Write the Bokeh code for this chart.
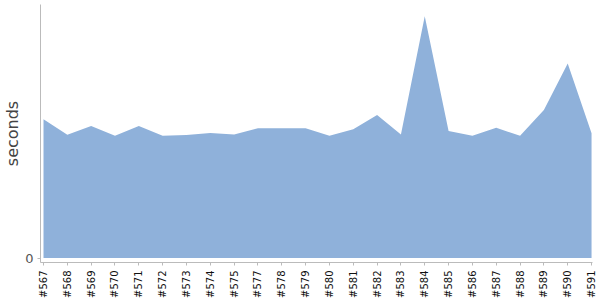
from bokeh.plotting import figure
from bokeh.models import Range1d, FixedTicker
from bokeh.embed import file_html
from bokeh.resources import INLINE

builds = ["#567", "#568", "#569", "#570", "#571", "#572", "#573", "#574", "#575",
          "#577", "#578", "#579", "#580", "#581", "#582", "#583", "#584", "#585",
          "#586", "#587", "#588", "#589", "#590", "#591"]
seconds = [55.7, 49.5, 53.0, 49.1, 53.0, 49.1, 49.4, 50.2, 49.6,
           52.1, 52.1, 52.1, 49.1, 51.7, 57.4, 49.6, 97.1, 51.0,
           49.1, 52.3, 49.1, 59.4, 78.1, 50.1]

xs = list(range(len(builds)))

p = figure(width=600, height=300, output_backend="svg", toolbar_location=None,
           x_range=Range1d(-0.126, len(builds) - 1 + 0.04),
           y_range=Range1d(-1.8, 101.8),
           min_border_left=40, min_border_top=4, min_border_right=8, min_border_bottom=37)
p.outline_line_color = None
p.background_fill_color = "white"
p.border_fill_color = "white"

p.varea(x=xs, y1=[0] * len(xs), y2=seconds, fill_color="#8fb1da", fill_alpha=1.0)

p.xgrid.visible = False
p.ygrid.visible = False

xa = p.xaxis[0]
xa.ticker = FixedTicker(ticks=xs)
xa.major_label_overrides = {i: b for i, b in enumerate(builds)}
xa.major_label_orientation = 1.5708
xa.major_label_text_font = "DejaVu Sans"
xa.major_label_text_font_size = "10px"
xa.major_label_text_color = "#111111"
xa.major_label_standoff = 5
xa.major_tick_out = 3
xa.major_tick_in = 0
xa.minor_tick_out = 0
xa.minor_tick_in = 0
xa.axis_line_color = "#bbbbbb"
xa.major_tick_line_color = "#bbbbbb"

ya = p.yaxis[0]
ya.ticker = FixedTicker(ticks=[0])
ya.major_label_text_font = "DejaVu Sans"
ya.major_label_text_font_size = "13px"
ya.major_label_text_color = "#555555"
ya.major_label_standoff = 4
ya.major_tick_out = 3
ya.major_tick_in = 0
ya.minor_tick_out = 0
ya.minor_tick_in = 0
ya.axis_line_color = "#bbbbbb"
ya.major_tick_line_color = "#bbbbbb"
ya.axis_label = "seconds"
ya.axis_label_text_font = "DejaVu Sans"
ya.axis_label_text_font_size = "16px"
ya.axis_label_text_font_style = "normal"
ya.axis_label_text_color = "#444444"
ya.axis_label_standoff = 0

open("out.html", "w").write(file_html(p, INLINE))
